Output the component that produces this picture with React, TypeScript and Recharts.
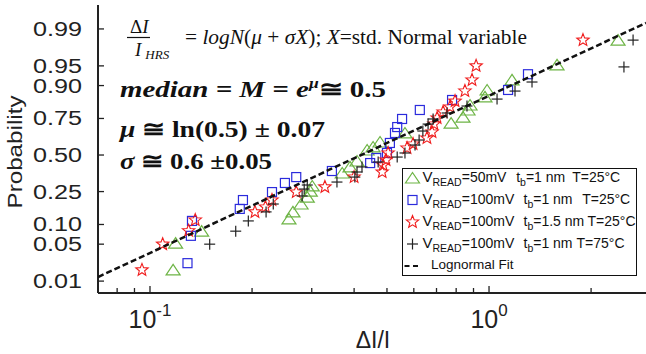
import React from 'react'
import { ScatterChart, Scatter, XAxis, YAxis } from 'recharts'

// ΔI/I values and cumulative probabilities
const greenX = [0.117, 0.119, 0.142, 0.257, 0.264, 0.279, 0.291, 0.297, 0.301, 0.369, 0.389, 0.408, 0.437, 0.455, 0.477, 0.565, 0.773, 0.838, 0.867, 0.879, 0.973, 0.987, 1.169, 1.587, 2.402]
const greenP = [0.017, 0.052, 0.080, 0.119, 0.147, 0.183, 0.219, 0.253, 0.284, 0.370, 0.413, 0.456, 0.537, 0.559, 0.595, 0.658, 0.722, 0.758, 0.797, 0.822, 0.858, 0.885, 0.917, 0.952, 0.983]

const blueX = [0.129, 0.132, 0.133, 0.184, 0.188, 0.229, 0.250, 0.270, 0.344, 0.446, 0.465, 0.500, 0.510, 0.528, 0.536, 0.554, 0.625, 0.778, 1.138, 1.303]
const blueP = [0.023, 0.068, 0.112, 0.160, 0.203, 0.247, 0.303, 0.342, 0.384, 0.441, 0.478, 0.515, 0.588, 0.658, 0.697, 0.747, 0.797, 0.845, 0.885, 0.932]

const redX = [0.0947, 0.109, 0.130, 0.136, 0.204, 0.219, 0.229, 0.270, 0.328, 0.400, 0.484, 0.487, 0.497, 0.504, 0.573, 0.597, 0.656, 0.679, 0.688, 0.703, 0.732, 0.767, 0.794, 0.849, 0.891, 0.916, 1.893]
const redP = [0.017, 0.050, 0.081, 0.115, 0.147, 0.169, 0.203, 0.247, 0.278, 0.342, 0.377, 0.427, 0.463, 0.515, 0.551, 0.580, 0.623, 0.664, 0.716, 0.753, 0.786, 0.812, 0.840, 0.881, 0.917, 0.950, 0.983]

const blackX = [0.150, 0.179, 0.195, 0.220, 0.231, 0.281, 0.285, 0.291, 0.356, 0.402, 0.408, 0.422, 0.471, 0.536, 0.565, 0.605, 0.622, 0.638, 0.661, 0.684, 0.752, 0.861, 1.056, 1.193, 1.339, 2.50, 2.66]
const blackP = [0.050, 0.080, 0.112, 0.147, 0.183, 0.225, 0.265, 0.290, 0.309, 0.342, 0.377, 0.413, 0.449, 0.485, 0.515, 0.573, 0.609, 0.671, 0.716, 0.747, 0.781, 0.817, 0.849, 0.881, 0.911, 0.948, 0.983]

// lognormal fit, end points at the plot edges
const fitX = [0.0703, 2.904]
const fitP = [0.0122, 0.9926]

const xDomain = [0.07025, 2.904]
const pDomain = [0.00545, 0.99718]
const xTicks = [0.08, 0.09, 0.1, 0.2, 0.3, 0.4, 0.5, 0.6, 0.7, 0.8, 0.9, 1, 2]
const xMajor = [0.1, 1]
const xMajorExp = ['-1', '0']
const probTicks = [0.01, 0.05, 0.1, 0.25, 0.5, 0.75, 0.9, 0.95, 0.99]
const probLabels = ['0.01', '0.05', '0.10', '0.25', '0.50', '0.75', '0.90', '0.95', '0.99']

const legendRows = [
  { shape: 'tri', v: '=50mV', tb: '=1 nm', t: 'T=25°C', tLeft: 113.2, TLeft: 169.2 },
  { shape: 'sq', v: '=100mV', tb: '=1 nm', t: 'T=25°C', tLeft: 120.5, TLeft: 179.2 },
  { shape: 'star', v: '=100mV', tb: '=1.5 nm', t: 'T=25°C', tLeft: 120.5, TLeft: 184.5 },
  { shape: 'cross', v: '=100mV', tb: '=1 nm', t: 'T=75°C', tLeft: 120.5, TLeft: 173.5 },
]

const GREEN = '#6db445'
const BLUE = '#2b2bdc'
const RED = '#f01c1c'
const DARK = '#222'
const SANS = "'Liberation Sans', Arial, sans-serif"
const SERIF = "'Liberation Serif', 'Times New Roman', serif"

// inverse normal CDF (Acklam), used for the probability axis
function probit(p: number): number {
  const a = [-3.969683028665376e1, 2.209460984245205e2, -2.759285104469687e2, 1.38357751867269e2, -3.066479806614716e1, 2.506628277459239]
  const b = [-5.447609879822406e1, 1.615858368580409e2, -1.556989798598866e2, 6.680131188771972e1, -1.328068155288572e1]
  const c = [-7.784894002430293e-3, -3.223964580411365e-1, -2.400758277161838, -2.549732539343734, 4.374664141464968, 2.938163982698783]
  const d = [7.784695709041462e-3, 3.224671290700398e-1, 2.445134137142996, 3.754408661907416]
  const pl = 0.02425
  if (p < pl) {
    const q = Math.sqrt(-2 * Math.log(p))
    return (((((c[0] * q + c[1]) * q + c[2]) * q + c[3]) * q + c[4]) * q + c[5]) / ((((d[0] * q + d[1]) * q + d[2]) * q + d[3]) * q + 1)
  }
  if (p <= 1 - pl) {
    const q = p - 0.5
    const r = q * q
    return ((((((a[0] * r + a[1]) * r + a[2]) * r + a[3]) * r + a[4]) * r + a[5]) * q) / (((((b[0] * r + b[1]) * r + b[2]) * r + b[3]) * r + b[4]) * r + 1)
  }
  const q = Math.sqrt(-2 * Math.log(1 - p))
  return -(((((c[0] * q + c[1]) * q + c[2]) * q + c[3]) * q + c[4]) * q + c[5]) / ((((d[0] * q + d[1]) * q + d[2]) * q + d[3]) * q + 1)
}

const toPoints = (xs: number[], ps: number[]) => xs.map((x, i) => ({ x, z: probit(ps[i]) }))

const starPath = (cx: number, cy: number, ro: number, ri: number) => {
  let d = ''
  for (let k = 0; k < 10; k++) {
    const r = k % 2 === 0 ? ro : ri
    const ang = -Math.PI / 2 + (k * Math.PI) / 5
    d += (k === 0 ? 'M' : 'L') + (cx + r * Math.cos(ang)).toFixed(2) + ',' + (cy + r * Math.sin(ang)).toFixed(2)
  }
  return d + 'Z'
}

const Tri = ({ cx, cy }: any) => (
  <path d={`M${cx},${cy - 5.5}L${cx + 7},${cy + 5}L${cx - 7},${cy + 5}Z`} fill="none" stroke={GREEN} strokeWidth={1.2} />
)
const Sq = ({ cx, cy }: any) => (
  <rect x={cx - 4.5} y={cy - 4.5} width={9} height={9} fill="none" stroke={BLUE} strokeWidth={1.2} />
)
const Star = ({ cx, cy }: any) => (
  <path d={starPath(cx, cy, 6.5, 2.8)} fill="none" stroke={RED} strokeWidth={1.1} />
)
const Cross = ({ cx, cy }: any) => (
  <g stroke={DARK} strokeWidth={1.2}>
    <line x1={cx - 5.5} x2={cx + 5.5} y1={cy} y2={cy} />
    <line x1={cx} x2={cx} y1={cy - 5.5} y2={cy + 5.5} />
  </g>
)

const BottomTick = ({ x, y, payload }: any) => {
  const m = xMajor.indexOf(payload.value)
  return (
    <g>
      <line x1={x} x2={x} y1={y} y2={y - (m >= 0 ? 7 : 5)} stroke={DARK} strokeWidth={1.3} />
      {m >= 0 && (
        <text x={x} y={y + 34.5} textAnchor="middle" fontSize={25} fill={DARK} fontFamily={SANS}>
          10<tspan dy={-11.5} fontSize={17}>{xMajorExp[m]}</tspan>
        </text>
      )}
    </g>
  )
}
const TopTick = ({ x, y, payload }: any) => (
  <line x1={x} x2={x} y1={y} y2={y + (xMajor.includes(payload.value) ? 7 : 5)} stroke={DARK} strokeWidth={1.3} />
)
const LeftTick = ({ x, y, index }: any) => (
  <g>
    <line x1={x} x2={x + 6} y1={y} y2={y} stroke={DARK} strokeWidth={1.3} />
    <text x={82} y={y + 7} textAnchor="end" fontSize={19.5} fill={DARK} fontFamily={SANS} textLength={49} lengthAdjust="spacingAndGlyphs">
      {probLabels[index]}
    </text>
  </g>
)
const RightTick = ({ x, y }: any) => (
  <line x1={x} x2={x - 6} y1={y} y2={y} stroke={DARK} strokeWidth={1.3} />
)

const Marker = ({ shape }: { shape: string }) => {
  if (shape === 'tri') return <Tri cx={9.5} cy={11} />
  if (shape === 'sq') return <Sq cx={9.5} cy={11} />
  if (shape === 'star') return <Star cx={9.5} cy={11} />
  return <Cross cx={9.5} cy={11} />
}

function LegendBox() {
  return (
    <div style={{ position: 'absolute', left: 402, top: 168, width: 235, height: 108, boxSizing: 'border-box', border: '1.5px solid #111', background: '#fff', fontFamily: SANS, fontSize: 14, color: '#111' }}>
      <div style={{ marginTop: -2 }}>
        {legendRows.map((r, i) => (
          <div key={i} style={{ position: 'relative', height: 22, whiteSpace: 'nowrap', lineHeight: '22px' }}>
            <svg width={20} height={22} style={{ position: 'absolute', left: 0, top: 0 }}>
              <Marker shape={r.shape} />
            </svg>
            <span style={{ position: 'absolute', left: 19.5, top: -1 }}>
              <span style={{ fontSize: 15 }}>V</span>
              <span style={{ fontSize: 10.5, position: 'relative', top: 4 }}>READ</span>
              {r.v}
            </span>
            <span style={{ position: 'absolute', left: r.tLeft, top: -1 }}>
              t<span style={{ fontSize: 10.5, position: 'relative', top: 4 }}>b</span>{r.tb}
            </span>
            <span style={{ position: 'absolute', left: r.TLeft, top: -1 }}>{r.t}</span>
          </div>
        ))}
        <div style={{ position: 'relative', height: 22, lineHeight: '22px' }}>
          <svg width={20} height={22} style={{ position: 'absolute', left: 0, top: 0 }}>
            <line x1={1.5} x2={15} y1={11} y2={11} stroke="#111" strokeWidth={2.2} strokeDasharray="5 3.5" />
          </svg>
          <span style={{ position: 'absolute', left: 28, top: -1, fontSize: 13.5 }}>Lognormal Fit</span>
        </div>
      </div>
    </div>
  )
}

function Annotations() {
  return (
    <svg width={646} height={354} style={{ position: 'absolute', left: 0, top: 0, pointerEvents: 'none' }}>
      <text transform="translate(21.5,152) rotate(-90)" textAnchor="middle" fontSize={20} fill={DARK} fontFamily={SANS} textLength={113} lengthAdjust="spacingAndGlyphs">
        Probability
      </text>
      <text x={373} y={348} textAnchor="middle" fontSize={23} fill={DARK} fontFamily={SANS}>ΔI/I</text>
      <g fontFamily={SERIF} fill="#111">
        <text x={130} y={33} fontSize={19}>Δ<tspan fontStyle="italic">I</tspan></text>
        <line x1={127} x2={150} y1={37.5} y2={37.5} stroke="#111" strokeWidth={1.2} />
        <text x={135} y={56} fontSize={19} fontStyle="italic">
          I<tspan dx={4} dy={3} fontSize={13}>HRS</tspan>
        </text>
        <text x={185} y={44} fontSize={20} textLength={342} lengthAdjust="spacingAndGlyphs">
          = <tspan fontStyle="italic">logN</tspan>(<tspan fontStyle="italic">μ</tspan> + <tspan fontStyle="italic">σX</tspan>); <tspan fontStyle="italic">X</tspan>=std. Normal variable
        </text>
        <text x={120} y={97} fontSize={23} fontWeight="bold" fontStyle="italic" textLength={266} lengthAdjust="spacingAndGlyphs">
          median = M = e<tspan dy={-9} fontSize={14}>μ</tspan><tspan dy={9} fontStyle="normal">≅ 0.5</tspan>
        </text>
        <text x={120} y={137} fontSize={23} fontWeight="bold" textLength={205} lengthAdjust="spacingAndGlyphs">
          <tspan fontStyle="italic">μ</tspan> ≅ ln(0.5) ± 0.07
        </text>
        <text x={120} y={169} fontSize={23} fontWeight="bold" textLength={152} lengthAdjust="spacingAndGlyphs">
          <tspan fontStyle="italic">σ</tspan> ≅ 0.6 ±0.05
        </text>
      </g>
    </svg>
  )
}

export default function App() {
  const axisLine = { stroke: DARK, strokeWidth: 2 }
  return (
    <div style={{ position: 'absolute', left: 0, top: 0, width: 646, height: 354, overflow: 'hidden', background: '#fff' }}>
      <ScatterChart width={646} height={354} margin={{ top: 5, right: 0, left: 38, bottom: 21 }}>
        <XAxis type="number" dataKey="x" scale="log" domain={xDomain} allowDataOverflow ticks={xTicks} interval={0}
          tickSize={0} tickMargin={0} height={40} axisLine={axisLine} tick={(p: any) => <BottomTick {...p} />} />
        <XAxis xAxisId="top" orientation="top" type="number" dataKey="x" scale="log" domain={xDomain} allowDataOverflow ticks={xTicks} interval={0}
          tickSize={0} tickMargin={0} height={0} axisLine={axisLine} tick={(p: any) => <TopTick {...p} />} />
        <YAxis type="number" dataKey="z" domain={[probit(pDomain[0]), probit(pDomain[1])]} allowDataOverflow ticks={probTicks.map(probit)} interval={0}
          tickSize={0} tickMargin={0} width={60} axisLine={axisLine} tick={(p: any) => <LeftTick {...p} />} />
        <YAxis yAxisId="right" orientation="right" type="number" dataKey="z" domain={[probit(pDomain[0]), probit(pDomain[1])]} allowDataOverflow ticks={probTicks.map(probit)} interval={0}
          tickSize={0} tickMargin={0} width={0} axisLine={axisLine} tick={(p: any) => <RightTick {...p} />} />
        <Scatter data={toPoints(greenX, greenP)} shape={(p: any) => <Tri {...p} />} isAnimationActive={false} />
        <Scatter data={toPoints(blueX, blueP)} shape={(p: any) => <Sq {...p} />} isAnimationActive={false} />
        <Scatter data={toPoints(redX, redP)} shape={(p: any) => <Star {...p} />} isAnimationActive={false} />
        <Scatter data={toPoints(blackX, blackP)} shape={(p: any) => <Cross {...p} />} isAnimationActive={false} />
        <Scatter data={toPoints(fitX, fitP)} line={{ stroke: '#111', strokeWidth: 2.5, strokeDasharray: '6 3' }} lineType="joint"
          shape={() => <g />} isAnimationActive={false} />
      </ScatterChart>
      <Annotations />
      <LegendBox />
    </div>
  )
}
